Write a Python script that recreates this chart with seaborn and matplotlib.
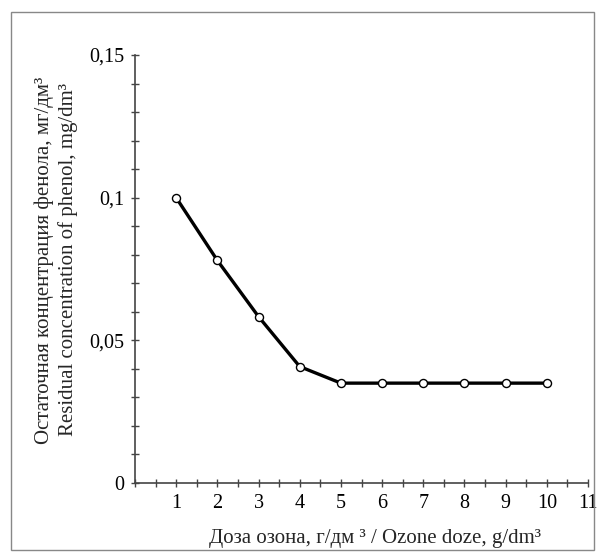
import numpy as np
import pandas as pd
import matplotlib
matplotlib.use("Agg")
import matplotlib.pyplot as plt
from matplotlib.patches import Rectangle
from matplotlib.ticker import MultipleLocator
import seaborn as sns

# Доза озона (г/дм3) и остаточная концентрация фенола (мг/дм3)
doza = [1, 2, 3, 4, 5, 6, 7, 8, 9, 10]
fenol = [0.100, 0.078, 0.0583, 0.0408, 0.035, 0.035, 0.035, 0.035, 0.035, 0.035]

y_ticks = [0, 0.05, 0.1, 0.15]
y_labels = ["0", "0,05", "0,1", "0,15"]
x_ticks = list(range(1, 12))

df = pd.DataFrame({"doza": doza, "fenol": fenol})

sns.set_theme(style="ticks")
plt.rcParams["font.family"] = ["Liberation Serif", "DejaVu Serif"]

fig = plt.figure(figsize=(6.05, 5.6), dpi=100)
ax = fig.add_axes([135 / 605, 1 - 483 / 560, (588 - 135) / 605, (483 - 55) / 560])

sns.lineplot(data=df, x="doza", y="fenol", ax=ax, color="black", linewidth=2.4,
             marker="o", markersize=5.8, markerfacecolor="white",
             markeredgecolor="black", markeredgewidth=1.0)

ax.set_xlim(0, 11)
ax.set_ylim(0, 0.15)
ax.set_xticks(x_ticks)
ax.set_xticklabels([str(t) for t in x_ticks])
ax.xaxis.set_minor_locator(MultipleLocator(0.5))
ax.set_yticks(y_ticks)
ax.set_yticklabels(y_labels)
ax.yaxis.set_minor_locator(MultipleLocator(0.01))

gris = "#444444"
for s in ["top", "right"]:
    ax.spines[s].set_visible(False)
for s in ["left", "bottom"]:
    ax.spines[s].set_color(gris)
    ax.spines[s].set_linewidth(1.2)

ax.tick_params(which="both", direction="inout", length=5.5, width=1.0,
               color=gris, labelsize=14.5, labelcolor="black", pad=5)
ax.set_xlabel("")
ax.set_ylabel("")

fig.text(375 / 605, 1 - 538 / 560,
         "Доза озона, г/дм ³ / Ozone doze, g/dm³",
         ha="center", va="center", fontsize=15)
fig.text(56 / 605, 1 - 260 / 560,
         "Остаточная концентрация фенола, мг/дм³\nResidual concentration of phenol, mg/dm³",
         ha="center", va="center", rotation=90, fontsize=15,
         multialignment="center", linespacing=1.25)

# рамка вокруг рисунка
fig.patches.append(Rectangle((11 / 605, 1 - 550 / 560), (594 - 11) / 605, (550 - 12) / 560,
                             transform=fig.transFigure, fill=False,
                             edgecolor="#888888", linewidth=1.0))

fig.savefig("out.png", dpi=100)
